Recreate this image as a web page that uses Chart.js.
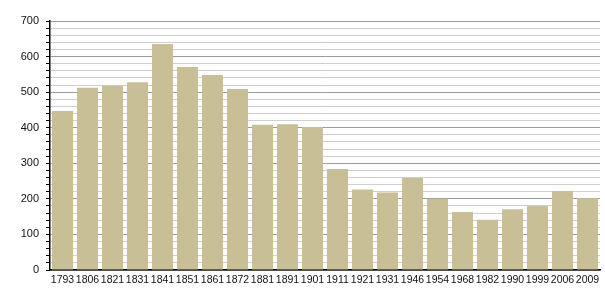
<!DOCTYPE html>
<html lang="fr">
<head>
  <meta charset="UTF-8" />
  <title>Population</title>
  <script src="https://cdn.jsdelivr.net/npm/chart.js"></script>
  <style>
    body {
      margin: 0;
      background: #ffffff;
    }
    #chart {
      display: block;
    }
  </style>
</head>
<body>
  <canvas id="chart" width="605" height="300"></canvas>

  <script>
    // data
    const years = ['1793', '1806', '1821', '1831', '1841', '1851', '1861', '1872', '1881', '1891', '1901',
                   '1911', '1921', '1931', '1946', '1954', '1968', '1982', '1990', '1999', '2006', '2009'];
    const population = [447, 512, 518, 528, 635, 571, 548, 509, 408, 410, 402,
                        284, 226, 218, 259, 200, 163, 141, 171, 180, 222, 202];
    const yTicks = [0, 100, 200, 300, 400, 500, 600, 700];

    const barColor = '#c9bf96';

    const ctx = document.getElementById('chart').getContext('2d');
    new Chart(ctx, {
      type: 'bar',
      data: {
        labels: years,
        datasets: [{
          data: population,
          backgroundColor: barColor,
          borderWidth: 0,
          barPercentage: 0.84,
          categoryPercentage: 1
        }]
      },
      options: {
        responsive: false,
        animation: false,
        layout: { padding: { top: 21, right: 5, left: 0, bottom: 0 } },
        plugins: {
          legend: { display: false },
          tooltip: { enabled: false }
        },
        scales: {
          x: {
            grid: { display: false, drawTicks: false },
            border: { color: '#000000', width: 1.5 },
            ticks: {
              color: '#111111',
              font: { family: 'Liberation Sans', size: 10.5 },
              maxRotation: 0,
              autoSkip: false,
              padding: 4
            },
            afterFit: (scale) => { scale.height = 30; }
          },
          y: {
            min: 0,
            max: 700,
            border: { color: '#000000', width: 1.5 },
            grid: {
              color: (c) => (yTicks.includes(c.tick.value) ? '#9a9a9a' : '#cfcfcf'),
              tickColor: '#000000',
              tickLength: 4,
              lineWidth: 1
            },
            ticks: {
              stepSize: 20,
              autoSkip: false,
              color: '#111111',
              font: { family: 'Liberation Sans', size: 11 },
              padding: 7,
              callback: (v) => (yTicks.includes(v) ? v : '')
            },
            afterFit: (scale) => { scale.width = 50; }
          }
        }
      }
    });
  </script>
</body>
</html>
